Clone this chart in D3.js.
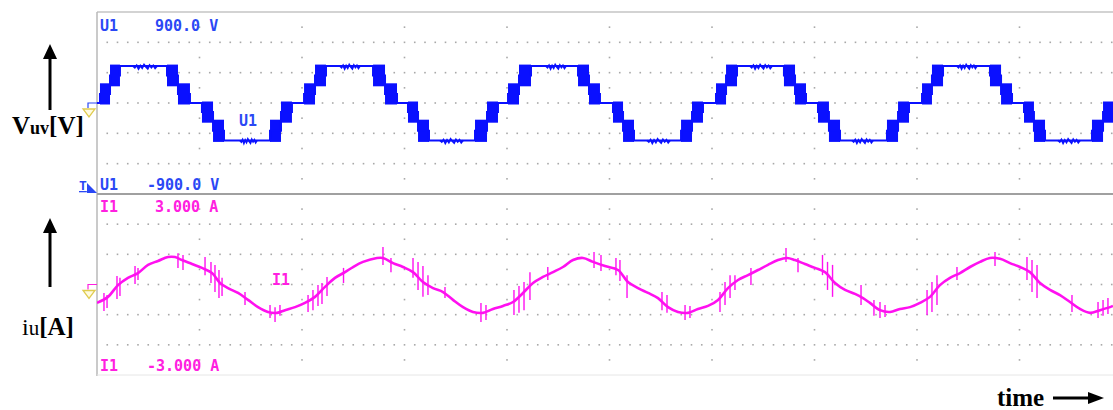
<!DOCTYPE html>
<html>
<head>
<meta charset="utf-8">
<script src="https://cdn.jsdelivr.net/npm/d3@7"></script>
<style>
  body { margin: 0; background: #fff; }
  svg { display: block; }
</style>
</head>
<body>
<div id="scope"></div>
<script>
// scope capture: line voltage Vuv and phase current iu

const WIDTH = 1113;
const HEIGHT = 410;

// voltage trace, breakpoints in ms and the level (or the two PWM levels) of each piece
const vTimes = [0, 0.29, 1.27, 2.24,
  6.83, 7.90, 9.07, 10.24, 11.32, 12.39, 16.88, 17.95, 19.02, 20.20, 21.27, 22.34,
  26.93, 28.10, 29.27, 30.34, 31.32, 32.39, 36.88, 38.05, 39.12, 40.10, 41.17, 42.34,
  46.93, 48.00, 49.07, 50.34, 51.32, 52.39, 56.98, 58.05, 59.12, 60.39, 61.37, 62.44,
  67.02, 68.10, 69.17, 70.34, 71.41, 72.49, 77.07, 78.15, 79.22, 80.49, 81.46, 82.54,
  87.12, 88.20, 89.27, 90.44, 91.41, 92.49, 97.07, 98.15, 100];
const vLow = [0, 0, 180,
  365, 180, 0, 0, -180, -370, -370, -370, -180, 0, 0, 180,
  365, 180, 0, 0, -180, -370, -370, -370, -180, 0, 0, 180,
  365, 180, 0, 0, -180, -370, -370, -370, -180, 0, 0, 180,
  365, 180, 0, 0, -180, -370, -370, -370, -180, 0, 0, 180,
  365, 180, 0, 0, -180, -370, -370, -370, -180];
const vHigh = [0, 180, 365,
  365, 365, 180, 0, 0, -180, -370, -180, 0, 0, 180, 365,
  365, 365, 180, 0, 0, -180, -370, -180, 0, 0, 180, 365,
  365, 365, 180, 0, 0, -180, -370, -180, 0, 0, 180, 365,
  365, 365, 180, 0, 0, -180, -370, -180, 0, 0, 180, 365,
  365, 365, 180, 0, 0, -180, -370, -180, 0];

// little ripple bursts sitting on the voltage plateaus
const burstStart = [3.51, 13.95, 23.71, 33.46, 43.80, 53.66, 63.71, 73.66, 83.90, 93.76];
const burstEnd = [5.85, 15.61, 25.66, 35.71, 45.76, 55.90, 65.85, 75.71, 85.85, 95.90];
const burstLevel = [365, -370, 365, -370, 365, -370, 365, -370, 365, -370];
const burstShape = [0, -15, 8, -28, 4, -20, 14, -8, -26, 10, -14, 6, -22, 0];

// current trace (ms, A)
const iTimes = [0, 1.07, 2.05, 3.02, 4.00, 4.98, 5.95, 6.93, 7.61, 8.29, 9.27, 10.24, 11.22, 12.00,
  12.78, 13.76, 14.73, 15.71, 16.68, 17.56, 18.34, 19.32, 20.29, 21.27, 22.24, 23.22, 24.20, 24.98,
  25.95, 27.32, 27.90, 28.88, 29.85, 30.83, 31.80, 32.78, 33.76, 34.73, 35.71, 36.68, 37.66, 38.63,
  39.61, 40.59, 41.56, 42.54, 43.51, 44.49, 45.46, 46.44, 47.41, 48.39, 49.56, 50.83, 51.80, 52.78,
  53.76, 54.73, 55.71, 56.68, 57.66, 58.63, 59.61, 60.59, 61.56, 62.54, 63.51, 64.49, 65.46, 66.44,
  67.32, 68.10, 69.07, 70.05, 71.02, 72.00, 72.98, 73.95, 74.73, 75.41, 76.39, 77.37, 78.34, 79.32,
  80.29, 81.27, 82.24, 83.22, 84.20, 85.17, 86.15, 87.12, 88.10, 89.07, 90.05, 91.02, 92.00, 92.98,
  93.95, 94.93, 95.90, 96.88, 97.85, 98.83, 99.12];
const iAmps = [-0.61, -0.41, -0.02, 0.22, 0.38, 0.65, 0.78, 0.91, 0.91, 0.81, 0.68, 0.55, 0.38, 0.05,
  -0.12, -0.28, -0.51, -0.75, -0.91, -0.94, -0.85, -0.75, -0.61, -0.41, -0.08, 0.22, 0.41, 0.58,
  0.75, 0.88, 0.88, 0.71, 0.58, 0.41, 0.08, -0.12, -0.25, -0.51, -0.75, -0.91, -0.94, -0.81,
  -0.71, -0.58, -0.28, 0.05, 0.25, 0.41, 0.58, 0.81, 0.88, 0.75, 0.61, 0.48, 0.08, -0.12,
  -0.28, -0.45, -0.75, -0.91, -0.94, -0.81, -0.71, -0.51, -0.12, 0.15, 0.31, 0.48, 0.65, 0.81,
  0.88, 0.81, 0.68, 0.55, 0.41, 0.05, -0.18, -0.31, -0.45, -0.61, -0.85, -0.91, -0.81, -0.75,
  -0.61, -0.41, -0.02, 0.22, 0.38, 0.58, 0.75, 0.88, 0.85, 0.71, 0.58, 0.41, 0.05, -0.18,
  -0.35, -0.58, -0.81, -0.94, -0.85, -0.75, -0.71];

// switching spikes on the current (ms, top A, bottom A)
const spikeT = [0.68, 0.98, 1.95, 2.24, 3.71, 4.00, 7.90, 8.39, 10.54, 11.12, 11.51, 11.90, 12.20, 14.44,
  16.88, 17.37, 17.85, 20.59, 21.07, 21.56, 21.95, 22.44, 24.05,
  27.90, 28.68, 30.83, 31.32, 31.80, 32.29, 33.95, 37.46, 37.95, 40.68, 41.17, 41.66, 42.24, 43.98, 48.49, 49.17,
  50.63, 51.02, 51.71, 55.12, 55.61, 57.37, 57.85, 60.78, 61.27, 61.76, 62.24, 63.80, 67.22, 68.39, 70.78, 71.27, 71.76, 74.54,
  75.80, 76.39, 76.88, 80.98, 81.46, 81.95, 83.90, 87.61, 90.73, 91.22, 91.71, 95.12, 97.66, 98.15, 98.63];
const spikeTop = [-0.28, -0.35, 0.28, 0.22, 0.61, 0.55, 1.04, 0.98, 0.91, 0.75, 0.65, 0.48, 0.22, -0.25,
  -0.68, -0.75, -0.68, -0.35, -0.18, -0.02, 0.05, 0.25, 0.55,
  1.24, 0.88, 0.88, 0.75, 0.61, 0.31, -0.08, -0.61, -0.68, -0.18, -0.05, 0.08, 0.41, 0.58, 1.08, 0.98,
  0.88, 0.81, 0.31, -0.25, -0.35, -0.68, -0.71, -0.25, 0.08, 0.31, 0.31, 0.55, 1.21, 0.88, 0.98, 0.75, 0.65, -0.02,
  -0.51, -0.58, -0.68, -0.18, 0.08, 0.31, 0.58, 1.08, 0.91, 0.81, 0.65, -0.35, -0.58, -0.51, -0.45];
const spikeBot = [-0.88, -0.78, -0.48, -0.38, 0.02, 0.15, 0.55, 0.48, 0.31, 0.05, -0.25, -0.45, -0.38, -0.68,
  -1.11, -1.24, -1.04, -0.91, -0.85, -0.71, -0.65, -0.38, 0.05,
  0.65, 0.41, 0.22, -0.18, -0.41, -0.35, -0.45, -1.24, -1.18, -1.01, -0.94, -0.85, -0.51, 0.15, 0.55, 0.45,
  0.31, 0.12, -0.45, -0.85, -0.94, -1.18, -1.11, -0.91, -0.68, -0.45, -0.18, -0.02, 0.75, 0.41, 0.31, -0.18, -0.41, -0.68,
  -1.04, -1.11, -1.08, -1.01, -0.91, -0.68, 0.15, 0.61, 0.15, -0.25, -0.45, -0.91, -1.11, -1.04, -0.98];

const BLUE = "#0a10ff";
const BLUE_TXT = "#2a48f5";
const MAG = "#ff10f0";
const MAG_TXT = "#ff20e0";
const GRID = "#a8a8a8";
const MONO = "DejaVu Sans Mono";
const SERIF = "Liberation Serif";

const svg = d3.select("#scope")
  .append("svg")
    .attr("width", WIDTH)
    .attr("height", HEIGHT);

svg.append("rect").attr("width", WIDTH).attr("height", HEIGHT).attr("fill", "#fff");

// 10 ms per division, 10 divisions
const x = d3.scaleLinear().domain([0, 100]).range([97, 1122]);
const yV = d3.scaleLinear().domain([-900, 900]).range([194, 12]);
const yI = d3.scaleLinear().domain([-3, 3]).range([375, 194]);

svg.append("defs").append("clipPath").attr("id", "plot")
  .append("rect").attr("x", 97).attr("y", 12).attr("width", WIDTH - 97).attr("height", 363);

// ---- grid dots
const grid = svg.append("g");
function dotRows(yScale, rows, halfSteps) {
  rows.forEach(v => {
    d3.range(1, 100).forEach(t => {
      grid.append("rect")
        .attr("x", x(t) - 0.8).attr("y", yScale(v) - 0.8)
        .attr("width", 1.6).attr("height", 1.6)
        .attr("fill", GRID);
    });
  });
  d3.range(10, 100, 10).forEach(t => {
    halfSteps.forEach(v => {
      grid.append("rect")
        .attr("x", x(t) - 0.8).attr("y", yScale(v) - 0.8)
        .attr("width", 1.6).attr("height", 1.6)
        .attr("fill", GRID);
    });
  });
}
dotRows(yV, [-600, -300, 0, 300, 600], [-750, -450, -150, 150, 450, 750]);
dotRows(yI, [-2, -1, 0, 1, 2], [-2.5, -1.5, -0.5, 0.5, 1.5, 2.5]);

// ---- frame
svg.append("line").attr("x1", 97).attr("x2", WIDTH).attr("y1", 12).attr("y2", 12)
  .attr("stroke", "#c4c4c4").attr("stroke-width", 1.5);
svg.append("line").attr("x1", 97).attr("x2", 97).attr("y1", 12).attr("y2", 376)
  .attr("stroke", "#b8b8b8").attr("stroke-width", 1.5);
svg.append("line").attr("x1", 97).attr("x2", WIDTH).attr("y1", 194).attr("y2", 194)
  .attr("stroke", "#a0a0a0").attr("stroke-width", 2);
svg.append("line").attr("x1", 97).attr("x2", WIDTH).attr("y1", 375).attr("y2", 375)
  .attr("stroke", "#e6e6e6").attr("stroke-width", 1);

// ---- voltage trace
const vg = svg.append("g").attr("clip-path", "url(#plot)");
const pieces = vLow.map((lo, i) => ({t0: vTimes[i], t1: vTimes[i + 1], lo: lo, hi: vHigh[i]}));

vg.selectAll("rect.pwm")
  .data(pieces.filter(d => d.lo !== d.hi))
  .enter()
  .append("rect")
    .attr("class", "pwm")
    .attr("x", d => x(d.t0))
    .attr("width", d => x(d.t1) - x(d.t0))
    .attr("y", d => yV(d.hi) - 1.5)
    .attr("height", d => yV(d.lo) - yV(d.hi) + 3)
    .attr("fill", BLUE);

const stepPts = [];
pieces.forEach(d => {
  const mid = (d.lo + d.hi) / 2;
  stepPts.push([d.t0, mid], [d.t1, mid]);
});
vg.append("path")
  .datum(stepPts)
  .attr("fill", "none")
  .attr("stroke", BLUE)
  .attr("stroke-width", 2)
  .attr("d", d3.line().x(d => x(d[0])).y(d => yV(d[1])));

// ripple bursts
burstStart.forEach((t0, k) => {
  const bx = d3.scaleLinear().domain([0, burstShape.length - 1]).range([t0, burstEnd[k]]);
  vg.append("path")
    .datum(burstShape)
    .attr("fill", "none")
    .attr("stroke", BLUE)
    .attr("stroke-width", 1.8)
    .attr("d", d3.line().x((d, j) => x(bx(j))).y(d => yV(burstLevel[k] + d)));
});

// ---- current trace
const ig = svg.append("g").attr("clip-path", "url(#plot)");
ig.selectAll("line.spike")
  .data(spikeT)
  .enter()
  .append("line")
    .attr("class", "spike")
    .attr("x1", d => x(d)).attr("x2", d => x(d))
    .attr("y1", (d, i) => yI(spikeTop[i]))
    .attr("y2", (d, i) => yI(spikeBot[i]))
    .attr("stroke", MAG)
    .attr("stroke-width", 1.4);

ig.append("path")
  .datum(iTimes.map((t, i) => [t, iAmps[i]]))
  .attr("fill", "none")
  .attr("stroke", MAG)
  .attr("stroke-width", 2.6)
  .attr("d", d3.line().x(d => x(d[0])).y(d => yI(d[1])).curve(d3.curveCatmullRom));

// ---- scope readouts
function readout(xp, yp, str, col) {
  svg.append("text")
    .attr("x", xp).attr("y", yp)
    .attr("font-family", MONO).attr("font-size", 15).attr("font-weight", "bold")
    .attr("fill", col)
    .text(str);
}
readout(100, 31, "U1", BLUE_TXT);
readout(155, 31, "900.0 V", BLUE_TXT);
readout(100, 190, "U1", BLUE_TXT);
readout(147, 190, "-900.0 V", BLUE_TXT);
readout(100, 212, "I1", MAG_TXT);
readout(155, 212, "3.000 A", MAG_TXT);
readout(100, 371, "I1", MAG_TXT);
readout(147, 371, "-3.000 A", MAG_TXT);
readout(239, 126, "U1", BLUE_TXT);
readout(272, 285, "I1", MAG_TXT);

// trigger mark
svg.append("text").attr("x", 79).attr("y", 190)
  .attr("font-family", MONO).attr("font-size", 13).attr("font-weight", "bold").attr("fill", BLUE_TXT)
  .attr("text-decoration", "underline").text("T");
svg.append("path").attr("d", "M87,183 L87,193 L97,193 Z").attr("fill", BLUE_TXT);

// ground marks
function groundMark(yp, col) {
  svg.append("path")
    .attr("d", `M97,${yp} L88,${yp} L88,${yp + 5}`)
    .attr("fill", "none").attr("stroke", col).attr("stroke-width", 1.2);
  svg.append("path")
    .attr("d", `M83,${yp + 6} L95,${yp + 6} L89,${yp + 14} Z`)
    .attr("fill", "#fffbe0").attr("stroke", "#e0cc50").attr("stroke-width", 1.3);
}
groundMark(yV(0), BLUE_TXT);
groundMark(yI(0), MAG_TXT);

// ---- outside labels
function upArrow(xp, tip, bottom) {
  svg.append("line").attr("x1", xp).attr("x2", xp).attr("y1", tip + 10).attr("y2", bottom)
    .attr("stroke", "#000").attr("stroke-width", 3);
  svg.append("path")
    .attr("d", `M${xp},${tip} L${xp - 7},${tip + 15} L${xp + 7},${tip + 15} Z`)
    .attr("fill", "#000");
}
upArrow(50, 44, 110);
upArrow(50, 218, 287);

const vLab = svg.append("text").attr("x", 12).attr("y", 134)
  .attr("font-family", SERIF).attr("font-weight", "bold").attr("fill", "#000");
vLab.append("tspan").attr("font-size", 25).text("V");
vLab.append("tspan").attr("font-size", 18).text("uv");
vLab.append("tspan").attr("font-size", 25).text("[V]");

const iLab = svg.append("text").attr("x", 22).attr("y", 335)
  .attr("font-family", SERIF).attr("fill", "#000");
iLab.append("tspan").attr("font-size", 24).text("i");
iLab.append("tspan").attr("font-size", 21).text("u");
iLab.append("tspan").attr("font-size", 25).attr("font-weight", "bold").text("[A]");

svg.append("text").attr("x", 997).attr("y", 406)
  .attr("font-family", SERIF).attr("font-weight", "bold").attr("font-size", 25)
  .attr("fill", "#000").text("time");
svg.append("line").attr("x1", 1053).attr("x2", 1092).attr("y1", 398).attr("y2", 398)
  .attr("stroke", "#000").attr("stroke-width", 3);
svg.append("path").attr("d", "M1104,398 L1088,392 L1088,404 Z").attr("fill", "#000");
</script>
</body>
</html>
